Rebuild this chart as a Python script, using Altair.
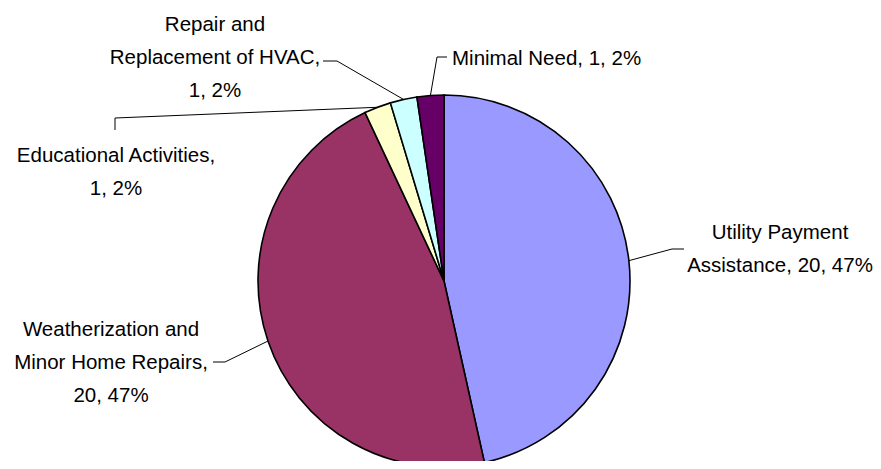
import math
import altair as alt
import pandas as pd

# ---- data ----
categories = [
    "Utility Payment Assistance",
    "Weatherization and Minor Home Repairs",
    "Educational Activities",
    "Repair and Replacement of HVAC",
    "Minimal Need",
]
values = [20, 20, 1, 1, 1]
colors = ["#9999FF", "#993366", "#FFFFCC", "#CCFFFF", "#660066"]
label_templates = [
    "Utility Payment\nAssistance, {v}, {p}%",
    "Weatherization and\nMinor Home Repairs,\n{v}, {p}%",
    "Educational Activities,\n{v}, {p}%",
    "Repair and\nReplacement of HVAC,\n{v}, {p}%",
    "Minimal Need, {v}, {p}%",
]

# ---- layout (pixels, plot coordinates) ----
OFF = 8
CX, CY, R = 444 - OFF, 281 - OFF, 186
FONT = "Liberation Sans, Arial, sans-serif"
FSIZE = 20.5
LINE_H = 33
# label anchor: (x, first baseline y, align)
label_pos = [
    (780, 239, "center"),
    (111, 336, "center"),
    (116, 162, "center"),
    (215, 30.5, "center"),
    (452, 65, "left"),
]
# leader line bends after the point on the pie edge
leader_bends = [
    [(672, 249), (684, 249)],
    [(225, 362), (213, 362)],
    [(115, 118), (115, 130)],
    [(337, 61), (323, 61)],
    [(437, 57), (447, 57)],
]

total = sum(values)
pie_df = pd.DataFrame({"category": categories, "value": values, "order": list(range(len(values)))})

text_rows = []
line_rows = []
cum = 0
for i, (cat, v) in enumerate(zip(categories, values)):
    pct = round(100 * v / total)
    lines = label_templates[i].format(v=v, p=pct).split("\n")
    lx, ly, al = label_pos[i]
    for j, t in enumerate(lines):
        text_rows.append({"x": lx - OFF, "y": ly - OFF + j * LINE_H, "text": t, "align": al})
    mid = (cum + v / 2) / total * 2 * math.pi
    cum += v
    ex = CX + R * math.sin(mid)
    ey = CY - R * math.cos(mid)
    pts = [(ex, ey)] + [(bx - OFF, by - OFF) for bx, by in leader_bends[i]]
    for k, (px, py) in enumerate(pts):
        line_rows.append({"id": cat, "k": k, "x": px, "y": py})

text_df = pd.DataFrame(text_rows)
line_df = pd.DataFrame(line_rows)

pie = alt.Chart(pie_df).mark_arc(outerRadius=R, stroke="black", strokeWidth=1.6).encode(
    theta=alt.Theta("value:Q", stack=True),
    order=alt.Order("order:Q"),
    color=alt.Color("category:N", scale=alt.Scale(domain=categories, range=colors), legend=None),
    x=alt.value(CX),
    y=alt.value(CY),
)

leaders = alt.Chart(line_df).mark_line(color="black", strokeWidth=1).encode(
    x=alt.X("x:Q", scale=None, axis=None),
    y=alt.Y("y:Q", scale=None, axis=None),
    detail="id:N",
    order="k:Q",
)

txt_c = alt.Chart(text_df[text_df["align"] == "center"]).mark_text(
    align="center", baseline="alphabetic", font=FONT, fontSize=FSIZE, color="black"
).encode(
    x=alt.X("x:Q", scale=None, axis=None),
    y=alt.Y("y:Q", scale=None, axis=None),
    text="text:N",
)
txt_l = alt.Chart(text_df[text_df["align"] == "left"]).mark_text(
    align="left", baseline="alphabetic", font=FONT, fontSize=FSIZE, color="black"
).encode(
    x=alt.X("x:Q", scale=None, axis=None),
    y=alt.Y("y:Q", scale=None, axis=None),
    text="text:N",
)

chart = alt.layer(pie, leaders, txt_c, txt_l).properties(
    width=865, height=453, padding=0, autosize="none", background="white"
).configure_view(strokeWidth=0)

chart.save("out.html", embed_options={"renderer": "svg", "actions": False})
